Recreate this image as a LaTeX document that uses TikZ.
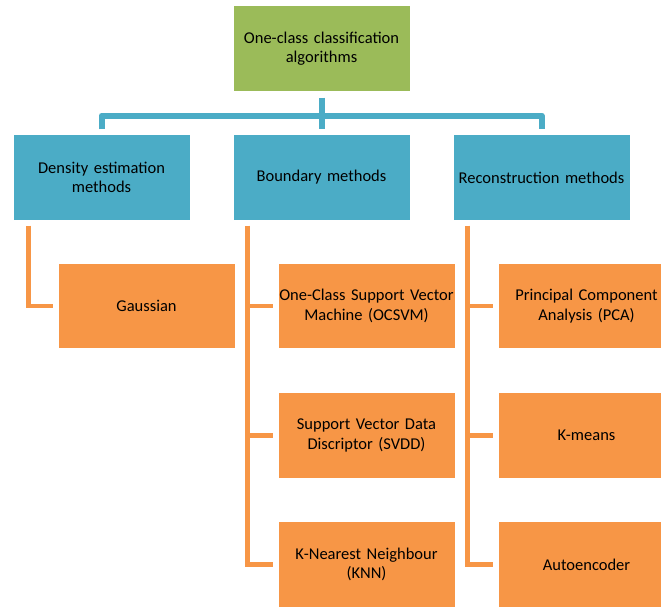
\documentclass[tikz,border=0pt]{standalone}
\usepackage{fontspec}
\setmainfont{Carlito}
\usetikzlibrary{calc}
\definecolor{topgreen}{HTML}{9BBB59}
\definecolor{midblue}{HTML}{4BACC6}
\definecolor{leaforange}{HTML}{F79646}
\tikzset{
  box/.style={minimum width=177pt, minimum height=85.5pt, inner sep=0pt, text width=176pt, align=center, font=\fontsize{16.5}{19.5}\selectfont, draw=white, line width=0.6pt},
  topbox/.style={box, fill=topgreen},
  catbox/.style={box, fill=midblue},
  leafbox/.style={box, fill=leaforange},
  blueline/.style={draw=midblue, line width=6pt, line join=round},
  orangeline/.style={draw=leaforange, line width=4.5pt, line join=miter},
}
\begin{document}
\begin{tikzpicture}[x=1pt,y=-1pt]
\useasboundingbox (0,0) rectangle (661,608);
\clip (0,0) rectangle (661,608);
\fill[white] (0,0) rectangle (661,608);

\node[topbox] (top) at (321.5,48.5) {One-class classification\\algorithms};

\node[catbox] (dens) at (101.5,177.5) {Density estimation\\methods};
\node[catbox] (bound) at (321.5,177.5) {Boundary methods};
\node[catbox] (rec) at (541.5,177.5) {Reconstruction methods};

\node[leafbox] (gauss) at (146.5,306) {Gaussian};
\node[leafbox] (ocsvm) at (366.5,306) {One-Class Support Vector\\Machine (OCSVM)};
\node[leafbox] (svdd) at (366.5,435.5) {Support Vector Data\\Discriptor (SVDD)};
\node[leafbox] (knn) at (366.5,564.5) {K-Nearest Neighbour\\(KNN)};
\node[leafbox] (pca) at (586.5,306) {Principal Component\\Analysis (PCA)};
\node[leafbox] (kmeans) at (586.5,435.5) {K-means};
\node[leafbox] (auto) at (586.5,564.5) {Autoencoder};

% blue connectors
\draw[blueline] ($(dens.north)+(0,-5)$) |- ($(top.south)+(0,24)$) -| ($(rec.north)+(0,-5)$);
\draw[blueline] ($(top.south)+(0,6)$) -- ($(bound.north)+(0,-5)$);

% orange connectors
\coordinate (dtrunk) at ($(dens.south west)+(16,5)$);
\coordinate (btrunk) at ($(bound.south west)+(15,5)$);
\coordinate (rtrunk) at ($(rec.south west)+(15,5)$);
\coordinate (gaussend) at ($(gauss.west)+(-5,0)$);
\coordinate (ocsvmend) at ($(ocsvm.west)+(-5,0)$);
\coordinate (svddend) at ($(svdd.west)+(-5,0)$);
\coordinate (knnend) at ($(knn.west)+(-5,0)$);
\coordinate (pcaend) at ($(pca.west)+(-5,0)$);
\coordinate (kmeansend) at ($(kmeans.west)+(-5,0)$);
\coordinate (autoend) at ($(auto.west)+(-5,0)$);

\draw[orangeline] (dtrunk) |- (gaussend);

\draw[orangeline] (btrunk) |- (knnend);
\draw[orangeline] (btrunk |- ocsvmend) -- (ocsvmend);
\draw[orangeline] (btrunk |- svddend) -- (svddend);

\draw[orangeline] (rtrunk) |- (autoend);
\draw[orangeline] (rtrunk |- pcaend) -- (pcaend);
\draw[orangeline] (rtrunk |- kmeansend) -- (kmeansend);
\end{tikzpicture}
\end{document}
